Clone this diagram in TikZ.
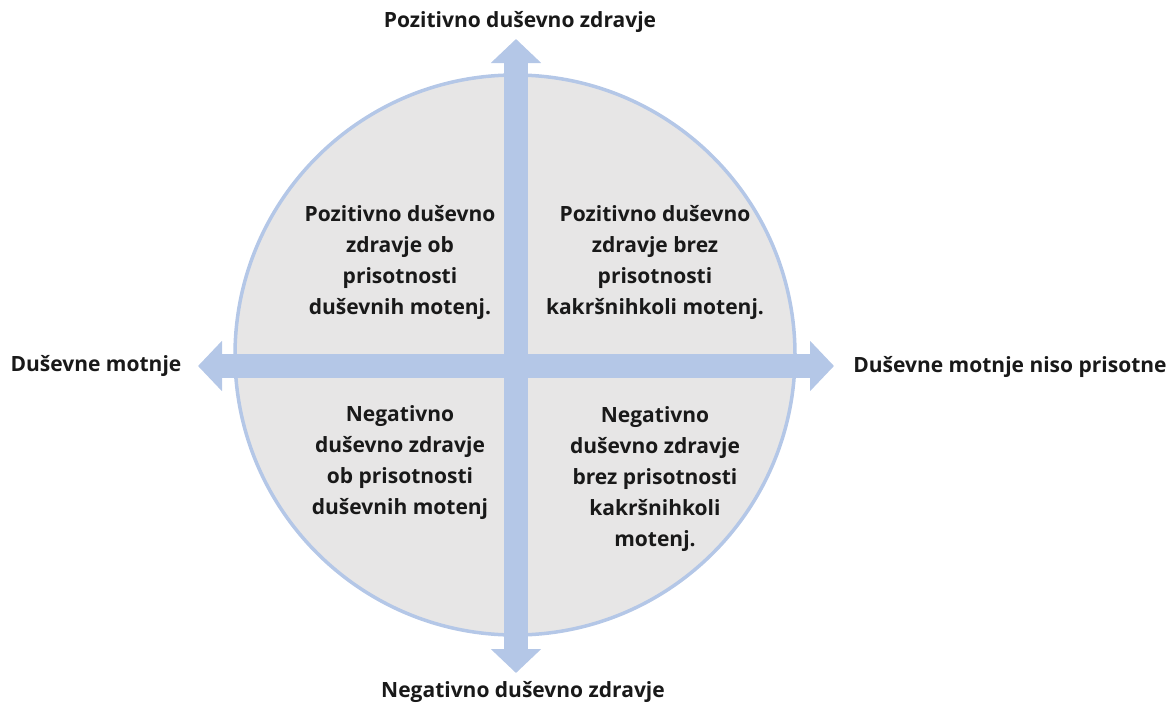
\documentclass[tikz,border=0pt]{standalone}
\usepackage{fontspec}
\setmainfont{Open Sans}[Ligatures=NoCommon]
\usepackage{tikz}
\usetikzlibrary{arrows.meta}
\usepackage{xcolor}
\definecolor{axisblue}{HTML}{B4C7E7}
\definecolor{discgray}{HTML}{E7E6E6}

\begin{document}
\begin{tikzpicture}[x=1pt,y=-1pt,
  axis/.style={axisblue, line width=24pt, {Triangle[length=24pt,width=49pt]}-{Triangle[length=24pt,width=49pt]}},
  lbl/.style={font=\bfseries\fontsize{21}{25}\selectfont, text=black!90, inner sep=0pt},
  quad/.style={lbl, align=center, font=\bfseries\fontsize{21}{31}\selectfont}]
  \useasboundingbox (0,0) rectangle (1175,707);
  \draw[axisblue, line width=3.5pt, fill=discgray] (515,355) circle (280);
  % axis ends
  \coordinate (top) at (516,39);
  \coordinate (bot) at (516,673);
  \coordinate (lft) at (198,366);
  \coordinate (rgt) at (834,366);
  \draw[axis] (bot) -- (top);
  \draw[axis] (lft) -- (rgt);
  % axis labels
  \node[lbl] (pos) at (520,22) {Pozitivno duševno zdravje};
  \node[lbl] (neg) at (523,692) {Negativno duševno zdravje};
  \node[lbl] (mot) at (96,366) {Duševne motnje};
  \node[lbl] (nomot) at (1010,367) {Duševne motnje niso prisotne};
  % quadrants
  \node[quad] (q1) at (400,262) {Pozitivno duševno\\zdravje ob\\prisotnosti\\duševnih motenj.};
  \node[quad] (q2) at (655,262) {Pozitivno duševno\\zdravje brez\\prisotnosti\\kakršnihkoli motenj.};
  \node[quad] (q3) at (400,463) {Negativno\\duševno zdravje\\ob prisotnosti\\duševnih motenj};
  \node[quad] (q4) at (655,479) {Negativno\\duševno zdravje\\brez prisotnosti\\kakršnihkoli\\motenj.};
\end{tikzpicture}
\end{document}
